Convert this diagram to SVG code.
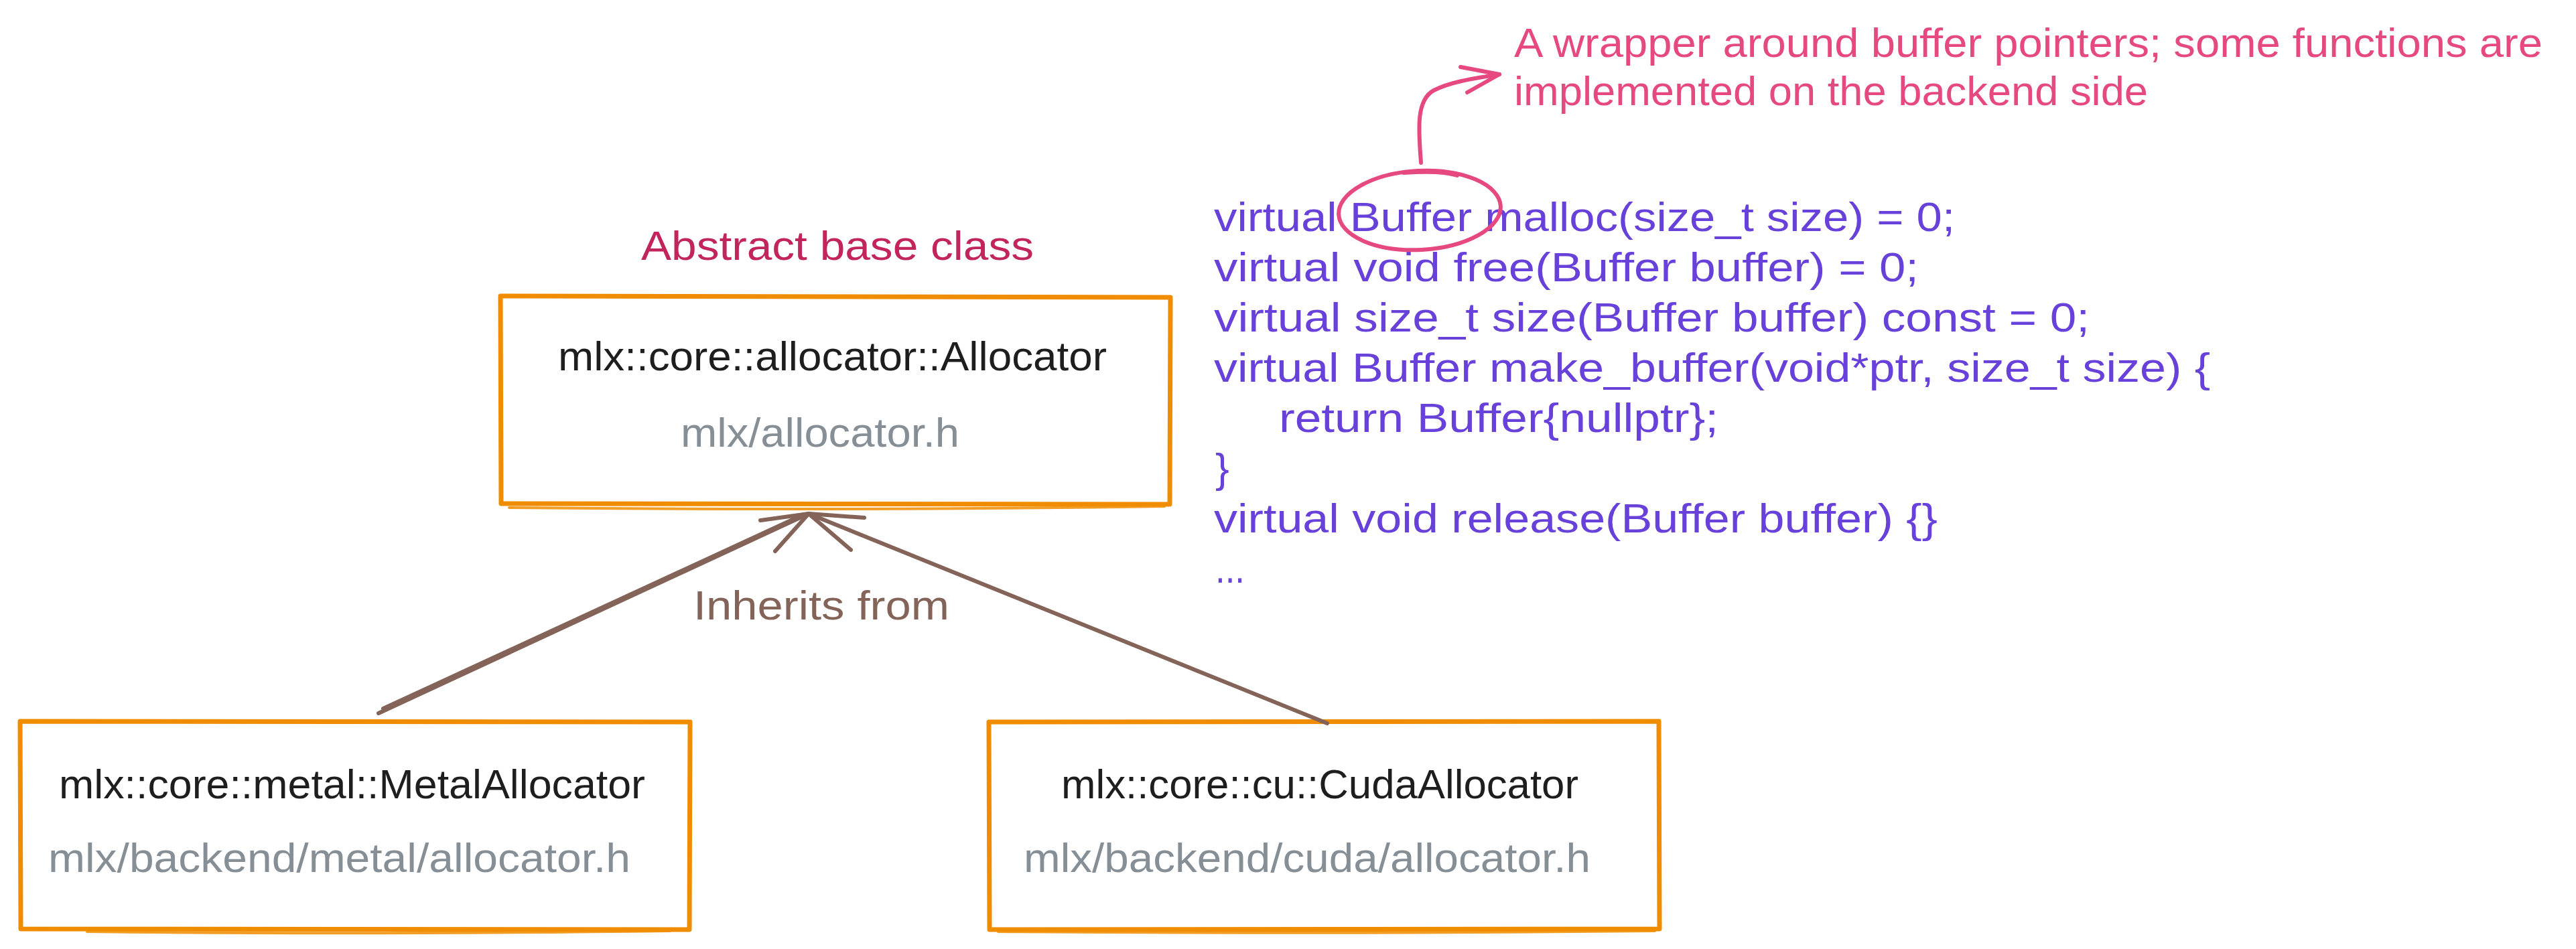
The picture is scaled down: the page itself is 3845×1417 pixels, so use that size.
<svg xmlns="http://www.w3.org/2000/svg" width="3845" height="1417" viewBox="0 0 3845 1417">
  <style>
    .box { fill: #ffffff; stroke: #f08c00; stroke-width: 7; stroke-linejoin: round; stroke-linecap: round; }
    .box2 { fill: none; stroke: #f08c00; stroke-width: 4; stroke-linecap: round; opacity: 0.85; }
    .t { font-family: "Liberation Sans", Arial, sans-serif; font-size: 62px; }
    .title { fill: #1e1e1e; }
    .path { fill: #868e96; }
    .abstract { fill: #c2255c; }
    .code { fill: #6741d9; }
    .note { fill: #e64980; }
    .inh { fill: #846358; }
    .brown { fill: none; stroke: #846358; stroke-width: 6; stroke-linecap: round; stroke-linejoin: round; }
    .pink { fill: none; stroke: #e64980; stroke-width: 6; stroke-linecap: round; stroke-linejoin: round; }
  </style>
  <rect width="3845" height="1417" fill="#ffffff"/>

  <g id="label-abstract">
    <text class="t abstract" x="957" y="388" textLength="586" lengthAdjust="spacingAndGlyphs">Abstract base class</text>
  </g>

  <g id="node-allocator">
    <path class="box" d="M747,442 L1747,444 L1746,753 L748,752 Z"/>
    <path class="box2" d="M760,758 Q1250,763 1738,756"/>
    <text class="t title" x="833" y="553" textLength="819" lengthAdjust="spacingAndGlyphs">mlx::core::allocator::Allocator</text>
    <text class="t path" x="1016" y="667" textLength="416" lengthAdjust="spacingAndGlyphs">mlx/allocator.h</text>
  </g>

  <g id="node-metal">
    <path class="box" d="M30,1077 L1030,1078 L1029,1388 L31,1387 Z"/>
    <path class="box2" d="M130,1391 Q520,1396 1000,1390"/>
    <text class="t title" x="88" y="1192" textLength="875" lengthAdjust="spacingAndGlyphs">mlx::core::metal::MetalAllocator</text>
    <text class="t path" x="72" y="1302" textLength="869" lengthAdjust="spacingAndGlyphs">mlx/backend/metal/allocator.h</text>
  </g>

  <g id="node-cuda">
    <path class="box" d="M1476,1078 L2476,1077 L2477,1387 L1477,1388 Z"/>
    <path class="box2" d="M1490,1391 Q1980,1395 2470,1390"/>
    <text class="t title" x="1584" y="1192" textLength="772" lengthAdjust="spacingAndGlyphs">mlx::core::cu::CudaAllocator</text>
    <text class="t path" x="1528" y="1302" textLength="846" lengthAdjust="spacingAndGlyphs">mlx/backend/cuda/allocator.h</text>
  </g>

  <g id="code-block" class="t code">
    <text x="1812" y="345" textLength="1106" lengthAdjust="spacingAndGlyphs">virtual Buffer malloc(size_t size) = 0;</text>
    <text x="1812" y="420" textLength="1052" lengthAdjust="spacingAndGlyphs">virtual void free(Buffer buffer) = 0;</text>
    <text x="1812" y="495" textLength="1307" lengthAdjust="spacingAndGlyphs">virtual size_t size(Buffer buffer) const = 0;</text>
    <text x="1812" y="570" textLength="1487" lengthAdjust="spacingAndGlyphs">virtual Buffer make_buffer(void*ptr, size_t size) {</text>
    <text x="1909" y="645" textLength="656" lengthAdjust="spacingAndGlyphs">return Buffer{nullptr};</text>
    <text x="1814" y="720">}</text>
    <text x="1812" y="795" textLength="1080" lengthAdjust="spacingAndGlyphs">virtual void release(Buffer buffer) {}</text>
    <text x="1814" y="870" textLength="44" lengthAdjust="spacingAndGlyphs">...</text>
  </g>

  <g id="highlight-buffer">
    <ellipse class="pink" cx="2119" cy="314" rx="121" ry="59" transform="rotate(-3 2119 314)"/>
    <path class="pink" stroke-width="4" d="M2095,258 Q2150,254 2175,262"/>
  </g>

  <g id="annotation" class="t note">
    <text x="2260" y="85" textLength="1535" lengthAdjust="spacingAndGlyphs">A wrapper around buffer pointers; some functions are</text>
    <text x="2260" y="157" textLength="946" lengthAdjust="spacingAndGlyphs">implemented on the backend side</text>
  </g>

  <g id="connectors">
    <path class="brown" d="M565,1065 L1207,767"/>
    <path class="brown" stroke-width="3" d="M572,1058 L1200,768"/>
    <path class="brown" stroke-width="7" d="M1135,777 L1207,767 L1157,823"/>
    <path class="brown" d="M1981,1080 L1207,767"/>
    <path class="brown" stroke-width="7" d="M1290,773 L1207,767 L1270,821"/>
    <path class="pink" d="M2121,243 C2118,200 2112,150 2140,135 C2165,122 2200,117 2238,111"/>
    <path class="pink" d="M2180,100 L2238,111 L2190,138"/>
  </g>

  <g id="label-inherits">
    <text class="t inh" x="1035" y="925" textLength="382" lengthAdjust="spacingAndGlyphs">Inherits from</text>
  </g>
</svg>
